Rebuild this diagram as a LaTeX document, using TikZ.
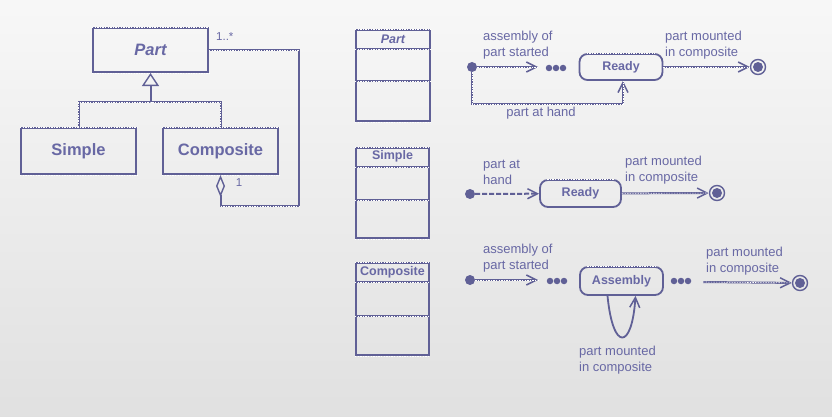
\documentclass[tikz,border=0pt]{standalone}
\usepackage{fontspec}
\setmainfont{Liberation Sans}
\usetikzlibrary{arrows.meta,calc}
\definecolor{lc}{RGB}{96,96,150}
\definecolor{tc}{RGB}{104,104,164}
\tikzset{
  box/.style={draw=lc, line width=2.1pt, inner sep=0pt, text=tc},
  wd/.style={draw=white, line width=0.6pt, dash pattern=on 1.4pt off 1.2pt},
  conn/.style={draw=lc, line width=2pt},
  sk/.style={conn, postaction={draw=white, line width=0.6pt, dash pattern=on 1.4pt off 1.2pt, -}},
  arr/.style={-{Straight Barb[length=10pt,width=10pt,line width=1.5pt]}},
  clsname/.style={box, font=\fontsize{16.5}{18}\selectfont\bfseries},
  objtitle/.style={text=tc, font=\fontsize{12.5}{14}\selectfont\bfseries, inner sep=0pt},
  lbl/.style={text=tc, font=\fontsize{13}{16}\selectfont, align=left, inner sep=0pt},
  smalllbl/.style={text=tc, font=\fontsize{11.5}{13}\selectfont, inner sep=0pt},
  statebox/.style={box, line width=1.8pt, rounded corners=8pt, font=\fontsize{12.5}{14}\selectfont\bfseries},
  initdot/.style={circle, fill=lc, minimum size=10pt, inner sep=0pt},
  finalst/.style={circle, draw=lc, line width=1.4pt, minimum size=15pt, inner sep=0pt},
  blob/.style={circle, fill=lc, minimum size=6.5pt, inner sep=0pt},
}
\begin{document}
\begin{tikzpicture}[x=1pt,y=-1pt]
\useasboundingbox (0,0) rectangle (832,417);
\shade[top color=white!97!black, bottom color=white!88!black] (0,0) rectangle (832,417);

% ---------------- class diagram ----------------
\node[clsname, minimum width=115pt, minimum height=44pt, font=\fontsize{16.5}{18}\selectfont\bfseries\itshape] (part) at (150.5,50) {Part};
\node[clsname, minimum width=115pt, minimum height=46pt] (simple) at (78.5,151) {Simple};
\node[clsname, minimum width=115pt, minimum height=46pt] (comp) at (220.5,151) {Composite};
\foreach \n in {part,simple,comp}{
  \draw[wd] (\n.north west) -- (\n.north east);
  \draw[wd] (\n.south west) -- (\n.south east);
}
\coordinate (gj) at (150.5,102);
\draw[sk] (simple.north) |- (gj) -| (comp.north);
\draw[conn, -{Triangle[open,length=13pt,width=17pt,line width=1.4pt]}] (gj) -- (part.south);
\coordinate (ag) at (299,206);
\draw[conn, {Diamond[open,length=22pt,width=9pt,line width=1.4pt]}-] (comp.south) |- (ag) |- (part.east);
\draw[wd] (comp.south |- ag) -- (ag);
\draw[wd] (part.east) -- (part.east -| ag);
\node[smalllbl, anchor=west] (m1) at (216,37) {1..*};
\node[smalllbl] (m2) at (239,183) {1};

% ---------------- object boxes ----------------
\node[box, minimum width=74pt, minimum height=91pt] (op) at (393,75.5) {};
\draw[conn] ($(op.north west)+(0,20)$) -- ($(op.north east)+(0,20)$);
\draw[conn] ($(op.north west)+(0,52)$) -- ($(op.north east)+(0,52)$);
\node[objtitle, font=\fontsize{12.5}{14}\selectfont\bfseries\itshape] (opt) at ($(op.north)+(0,10.5)$) {Part};

\node[box, minimum width=73pt, minimum height=90pt] (os) at (392.5,193) {};
\draw[conn] ($(os.north west)+(0,20)$) -- ($(os.north east)+(0,20)$);
\draw[conn] ($(os.north west)+(0,53)$) -- ($(os.north east)+(0,53)$);
\node[objtitle] (ost) at ($(os.north)+(0,9.5)$) {Simple};

\node[box, minimum width=73pt, minimum height=92pt] (oc) at (392.5,309) {};
\draw[conn] ($(oc.north west)+(0,20)$) -- ($(oc.north east)+(0,20)$);
\draw[conn] ($(oc.north west)+(0,54)$) -- ($(oc.north east)+(0,54)$);
\node[objtitle] (oct) at ($(oc.north)+(0,10)$) {Composite};

\foreach \n/\a/\b in {op/20/52, os/20/53, oc/20/54}{
  \draw[wd] (\n.north west) -- (\n.north east);
  \draw[wd] (\n.south west) -- (\n.south east);
  \draw[wd] ($(\n.north west)+(0,\a)$) -- ($(\n.north east)+(0,\a)$);
  \draw[wd] ($(\n.north west)+(0,\b)$) -- ($(\n.north east)+(0,\b)$);
}

% ---------------- state diagram 1 ----------------
\node[initdot] (i1) at (472,67) {};
\coordinate (e1) at (538,67);
\node[blob] (b1a) at (549,68) {};
\node[blob] (b1b) at (556,68) {};
\node[blob] (b1c) at (563,68) {};
\node[statebox, minimum width=83pt, minimum height=26pt] (r1) at (621,67) {Ready};
\draw[wd] ($(r1.north west)+(8,0)$) -- ($(r1.north east)+(-8,0)$);
\node[finalst] (f1) at (758,67) {};
\fill[lc] (f1) circle (5pt);
\draw[sk, arr] (i1) -- (e1);
\draw[sk, arr] (r1) -- (f1);
\coordinate (l1) at (623,104);
\draw[sk, arr] (i1) |- (l1) -- (l1 |- r1.south);
\node[lbl, anchor=north west] (t1a) at (483,30.5) {assembly of\\part started};
\node[lbl, anchor=north west] (t1b) at (665,30.5) {part mounted\\in composite};
\node[lbl] (t1c) at (541,113) {part at hand};

% ---------------- state diagram 2 ----------------
\node[initdot] (i2) at (470,194) {};
\node[statebox, minimum width=81pt, minimum height=27pt] (r2) at (580.5,193.5) {Ready};
\draw[wd] ($(r2.north west)+(8,0)$) -- ($(r2.north east)+(-8,0)$);
\node[finalst] (f2) at (717,193) {};
\fill[lc] (f2) circle (5pt);
\draw[conn, arr, dash pattern=on 5pt off 2pt] (i2) -- (r2);
\draw[sk, arr] (r2) -- (f2);
\node[lbl, anchor=north west] (t2a) at (483,159.5) {part at\\hand};
\node[lbl, anchor=north west] (t2b) at (625,155.5) {part mounted\\in composite};

% ---------------- state diagram 3 ----------------
\node[initdot] (i3) at (470,280) {};
\coordinate (e3) at (538,280);
\node[blob] (b3a) at (550,281) {};
\node[blob] (b3b) at (557,281) {};
\node[blob] (b3c) at (564,281) {};
\node[statebox, minimum width=83pt, minimum height=28pt] (r3) at (621.5,281) {Assembly};
\draw[wd] ($(r3.north west)+(8,0)$) -- ($(r3.north east)+(-8,0)$);
\node[blob] (b3d) at (674,281) {};
\node[blob] (b3e) at (681,281) {};
\node[blob] (b3f) at (688,281) {};
\coordinate (s3) at (703,282);
\node[finalst] (f3) at (800,283) {};
\fill[lc] (f3) circle (5pt);
\draw[sk, arr] (i3) -- (e3);
\draw[sk, arr] (s3) -- (f3);
\coordinate (lpA) at ($(r3.south)+(-14,0)$);
\coordinate (lpB) at ($(r3.south)+(14,0)$);
\draw[conn, line width=1.8pt, arr] (lpA) .. controls (613,352) and (632,350) .. (lpB);
\node[lbl, anchor=north west] (t3a) at (483,243.5) {assembly of\\part started};
\node[lbl, anchor=north west] (t3b) at (706,246.5) {part mounted\\in composite};
\node[lbl, anchor=north west] (t3c) at (579,345.5) {part mounted\\in composite};
\end{tikzpicture}
\end{document}
